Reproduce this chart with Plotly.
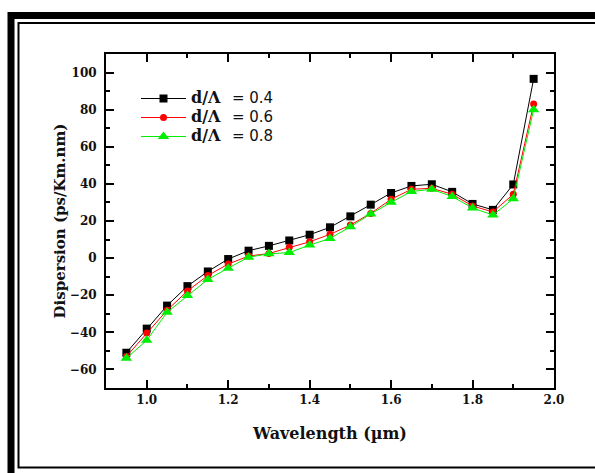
import plotly.graph_objects as go

wavelength = [0.95, 1.00, 1.05, 1.10, 1.15, 1.20, 1.25, 1.30, 1.35, 1.40, 1.45,
              1.50, 1.55, 1.60, 1.65, 1.70, 1.75, 1.80, 1.85, 1.90, 1.95]
disp_04 = [-51, -38, -25.6, -15.1, -7.2, -0.5, 4.0, 6.6, 9.5, 12.6, 16.6,
           22.5, 28.8, 35.1, 38.9, 39.8, 35.7, 29.2, 26.0, 39.7, 96.6]
disp_06 = [-53, -40.4, -28.1, -17.7, -9.4, -3.2, 1.1, 2.5, 5.8, 8.8, 12.8,
           17.8, 24.1, 31.7, 37.1, 37.6, 34.4, 28.1, 24.9, 34.4, 83.0]
disp_08 = [-54, -44.3, -29.2, -20.2, -11.5, -5.4, 0.5, 2.3, 3.0, 7.0, 10.6,
           16.9, 23.8, 30.1, 35.9, 37.1, 33.2, 27.0, 23.2, 32.0, 80.0]
labels = ["0.4", "0.6", "0.8"]
colors = ["#000000", "#ff0000", "#00ee00"]
symbols = ["square", "circle", "triangle-up"]
sizes = [8, 7, 10]

W, H = 595, 473
L, R, T, B = 106, 554, 54, 388


def px(xp):
    return (xp - L) / (R - L)


def py(yp):
    return (B - yp) / (B - T)


fig = go.Figure()
for ys, lab, c, s, sz in zip([disp_04, disp_06, disp_08], labels, colors, symbols, sizes):
    fig.add_trace(go.Scatter(
        x=wavelength, y=ys, mode="lines+markers",
        name=("<span style='font-family:DejaVu Serif;font-size:16px;font-weight:bold'>d/Λ</span>"
              "   <span style='font-family:DejaVu Sans;font-size:15px'>= " + lab + "</span>"),
        line=dict(color=c, width=1),
        marker=dict(symbol=s, size=sz, color=c, line=dict(width=0)),
    ))

serif = "DejaVu Serif"
axis_common = dict(
    showline=True, linecolor="black", linewidth=2, mirror="allticks",
    ticks="inside", ticklen=8, tickwidth=1.5, tickcolor="black",
    showgrid=False, zeroline=False,
    tickfont=dict(family=serif, size=12, color="#111111", weight="bold"),
)

fig.update_xaxes(
    range=[0.9, 2.0], dtick=0.2, tick0=1.0, tickformat=".1f",
    minor=dict(dtick=0.1, ticks="inside", ticklen=4, tickcolor="black", tickwidth=1.5),
    title=dict(text="<b>Wavelength (µm)</b>", font=dict(family=serif, size=16, color="#111111"), standoff=21),
    **axis_common,
)
fig.update_yaxes(
    range=[-70, 110], dtick=20, tick0=0,
    minor=dict(dtick=10, ticks="inside", ticklen=4, tickcolor="black", tickwidth=1.5),
    title=dict(text="<b>Dispersion (ps/Km.nm)</b>", font=dict(family=serif, size=15, color="#111111"), standoff=1),
    ticklabelstandoff=5,
    **axis_common,
)

shapes = [
    # outer thick frame
    dict(type="rect", xref="paper", yref="paper",
         x0=px(11), x1=px(610), y0=py(490), y1=py(15.5),
         line=dict(color="black", width=7), layer="above"),
    # inner thin frame
    dict(type="rect", xref="paper", yref="paper",
         x0=px(18.5), x1=px(605), y0=py(467.5), y1=py(23),
         line=dict(color="black", width=2), layer="above"),
]

fig.update_layout(
    width=W, height=H,
    margin=dict(l=L, r=W - R, t=T, b=H - B, pad=0),
    paper_bgcolor="white", plot_bgcolor="white",
    shapes=shapes,
    legend=dict(x=px(136), y=py(84), xanchor="left", yanchor="top",
                bgcolor="rgba(0,0,0,0)", borderwidth=0,
                font=dict(family=serif, size=12, color="#111111"),
                tracegroupgap=0, itemwidth=45),
    showlegend=True,
)

fig.write_html("out.html")
